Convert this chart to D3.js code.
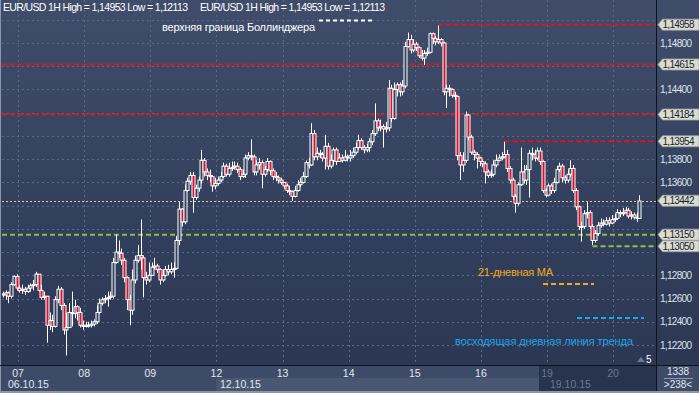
<!DOCTYPE html>
<html>
<head>
<meta charset="utf-8">
<script src="https://cdn.jsdelivr.net/npm/d3@7"></script>
<style>
  html, body { margin: 0; padding: 0; background: #8d96a8; }
  svg { display: block; font-family: "Liberation Sans", Arial, sans-serif; }
</style>
</head>
<body>
<svg id="chart" width="699" height="393"></svg>
<script>
// EUR/USD 1H, 06.10.15 18:00 .. 20.10.15 09:00 (one value per hour)
const dayLabels = ["07", "08", "09", "12", "13", "14", "15", "16", "19", "20"];
const dayStartIndex = [6, 30, 54, 78, 102, 126, 150, 174, 198, 222];
const weekLabels = ["06.10.15", "12.10.15", "19.10.15"];
const firstOpen = 1.1264;

const close = [
  1.1263,1.1265,1.1262,1.1272,1.1279,1.1269,
  1.1267,1.1268,1.1266,1.1269,1.1271,1.1272,1.1281,1.1267,1.1261,1.1262,1.1237,1.1241,1.1236,1.1259,1.1268,1.1254,1.1233,1.1235,1.1248,1.1247,1.1253,1.1248,1.1237,1.1236,
  1.1237,1.1237,1.1238,1.1240,1.1248,1.1256,1.1259,1.1260,1.1261,1.1262,1.1291,1.1300,1.1299,1.1293,1.1278,1.1259,1.1250,1.1276,1.1293,1.1297,1.1295,1.1278,1.1276,1.1280,
  1.1287,1.1288,1.1285,1.1276,1.1280,1.1285,1.1283,1.1285,1.1286,1.1310,1.1337,1.1326,1.1353,1.1361,1.1366,1.1347,1.1355,1.1362,1.1379,1.1369,1.1366,1.1365,1.1357,1.1359,
  1.1362,1.1365,1.1374,1.1367,1.1372,1.1373,1.1374,1.1371,1.1365,1.1367,1.1381,1.1383,1.1382,1.1369,1.1375,1.1377,1.1367,1.1371,1.1378,1.1370,1.1365,1.1364,1.1362,1.1360,
  1.1357,1.1353,1.1352,1.1348,1.1353,1.1358,1.1360,1.1365,1.1377,1.1375,1.1402,1.1382,1.1385,1.1384,1.1381,1.1391,1.1374,1.1379,1.1388,1.1378,1.1381,1.1379,1.1382,1.1381,
  1.1383,1.1386,1.1390,1.1396,1.1390,1.1388,1.1390,1.1395,1.1402,1.1413,1.1407,1.1408,1.1406,1.1407,1.1441,1.1415,1.1440,1.1444,1.1438,1.1443,1.1477,1.1483,1.1474,1.1479,
  1.1476,1.1469,1.1467,1.1471,1.1472,1.1488,1.1484,1.1481,1.1483,1.1480,1.1438,1.1441,1.1440,1.1435,1.1434,1.1383,1.1375,1.1379,1.1418,1.1399,1.1386,1.1384,1.1381,1.1378,
  1.1376,1.1369,1.1366,1.1367,1.1375,1.1379,1.1381,1.1382,1.1384,1.1372,1.1362,1.1348,1.1342,1.1358,1.1369,1.1362,1.1371,1.1385,1.1384,1.1381,1.1387,1.1378,1.1353,1.1349,
  1.1357,1.1353,1.1360,1.1371,1.1374,1.1364,1.1362,1.1367,1.1372,1.1353,1.1339,1.1322,1.1322,1.1333,1.1334,1.1322,1.1310,1.1316,1.1323,1.1325,1.1324,1.1327,1.1325,1.1328,
  1.1329,1.1334,1.1333,1.1334,1.1336,1.1331,1.1332,1.1330,1.1329,1.1344
];
const high = [
  1.1266,1.1267,1.1266,1.1274,1.1280,1.1281,
  1.1271,1.1272,1.1270,1.1272,1.1273,1.1276,1.1283,1.1281,1.1272,1.1266,1.1262,1.1248,1.1246,1.1262,1.1271,1.1270,1.1256,1.1248,1.1256,1.1266,1.1259,1.1254,1.1252,1.1241,
  1.1240,1.1240,1.1241,1.1242,1.1254,1.1260,1.1261,1.1263,1.1266,1.1266,1.1295,1.1315,1.1310,1.1303,1.1295,1.1279,1.1263,1.1285,1.1297,1.1306,1.1328,1.1297,1.1283,1.1291,
  1.1291,1.1295,1.1290,1.1286,1.1285,1.1288,1.1289,1.1291,1.1291,1.1314,1.1343,1.1338,1.1358,1.1364,1.1369,1.1369,1.1358,1.1365,1.1388,1.1381,1.1372,1.1371,1.1366,1.1364,
  1.1365,1.1369,1.1377,1.1376,1.1377,1.1378,1.1378,1.1377,1.1373,1.1371,1.1384,1.1386,1.1397,1.1384,1.1379,1.1381,1.1379,1.1374,1.1381,1.1379,1.1372,1.1369,1.1366,1.1364,
  1.1360,1.1359,1.1357,1.1353,1.1357,1.1362,1.1364,1.1369,1.1379,1.1381,1.1411,1.1405,1.1390,1.1388,1.1386,1.1401,1.1394,1.1384,1.1390,1.1390,1.1385,1.1384,1.1388,1.1384,
  1.1388,1.1390,1.1394,1.1401,1.1398,1.1392,1.1393,1.1398,1.1405,1.1428,1.1415,1.1414,1.1410,1.1412,1.1448,1.1444,1.1446,1.1446,1.1446,1.1448,1.1481,1.1489,1.1487,1.1483,
  1.1481,1.1477,1.1474,1.1474,1.1476,1.1489,1.1489,1.1486,1.1495,1.1484,1.1481,1.1444,1.1444,1.1441,1.1438,1.1434,1.1386,1.1386,1.1421,1.1419,1.1401,1.1388,1.1386,1.1382,
  1.1379,1.1378,1.1371,1.1371,1.1379,1.1384,1.1384,1.1386,1.1395,1.1388,1.1374,1.1364,1.1350,1.1360,1.1390,1.1375,1.1375,1.1388,1.1390,1.1388,1.1390,1.1390,1.1379,1.1355,
  1.1359,1.1359,1.1364,1.1374,1.1377,1.1376,1.1366,1.1371,1.1379,1.1375,1.1355,1.1340,1.1326,1.1336,1.1343,1.1336,1.1324,1.1319,1.1326,1.1329,1.1328,1.1330,1.1330,1.1332,
  1.1333,1.1337,1.1336,1.1338,1.1339,1.1338,1.1335,1.1334,1.1334,1.1349
];
const low = [
  1.1261,1.1259,1.1256,1.1260,1.1271,1.1267,
  1.1265,1.1264,1.1263,1.1265,1.1266,1.1267,1.1270,1.1266,1.1259,1.1259,1.1222,1.1233,1.1231,1.1235,1.1256,1.1250,1.1229,1.1211,1.1235,1.1236,1.1243,1.1241,1.1235,1.1233,
  1.1235,1.1235,1.1235,1.1236,1.1238,1.1247,1.1254,1.1256,1.1253,1.1259,1.1260,1.1290,1.1295,1.1289,1.1274,1.1250,1.1237,1.1246,1.1273,1.1291,1.1285,1.1261,1.1272,1.1274,
  1.1280,1.1285,1.1282,1.1272,1.1274,1.1279,1.1280,1.1281,1.1278,1.1285,1.1306,1.1322,1.1324,1.1352,1.1358,1.1334,1.1345,1.1352,1.1359,1.1365,1.1362,1.1360,1.1352,1.1354,
  1.1357,1.1360,1.1364,1.1365,1.1365,1.1370,1.1371,1.1368,1.1362,1.1364,1.1364,1.1379,1.1379,1.1366,1.1366,1.1371,1.1355,1.1365,1.1369,1.1366,1.1362,1.1361,1.1359,1.1358,
  1.1354,1.1351,1.1349,1.1344,1.1347,1.1352,1.1356,1.1359,1.1364,1.1372,1.1374,1.1379,1.1379,1.1381,1.1378,1.1371,1.1371,1.1372,1.1375,1.1375,1.1378,1.1377,1.1378,1.1378,
  1.1378,1.1381,1.1384,1.1388,1.1388,1.1385,1.1386,1.1386,1.1392,1.1400,1.1404,1.1404,1.1390,1.1403,1.1404,1.1412,1.1414,1.1434,1.1434,1.1435,1.1441,1.1476,1.1471,1.1472,
  1.1473,1.1467,1.1465,1.1461,1.1469,1.1471,1.1479,1.1478,1.1479,1.1477,1.1435,1.1424,1.1434,1.1433,1.1431,1.1379,1.1362,1.1369,1.1377,1.1396,1.1384,1.1379,1.1372,1.1374,
  1.1373,1.1359,1.1364,1.1364,1.1365,1.1373,1.1378,1.1379,1.1381,1.1369,1.1359,1.1345,1.1334,1.1340,1.1357,1.1359,1.1358,1.1347,1.1379,1.1378,1.1379,1.1375,1.1351,1.1347,
  1.1348,1.1350,1.1351,1.1359,1.1369,1.1360,1.1359,1.1360,1.1365,1.1351,1.1336,1.1319,1.1309,1.1320,1.1329,1.1320,1.1306,1.1308,1.1314,1.1321,1.1322,1.1323,1.1322,1.1324,
  1.1326,1.1328,1.1330,1.1331,1.1333,1.1329,1.1328,1.1328,1.1326,1.1331
];

// horizontal levels: value and the candle from which the line starts
const redLevels = [1.14958, 1.14615, 1.14184, 1.13954];
const redFrom = [158, 0, 0, 182];
const greenLevels = [1.13150, 1.13050];
const greenFrom = [0, 214];
const lastPrice = 1.13442;
const priceTicks = d3.range(0, 15).map((k) => 1.122 + k * 0.002);

// ---------- layout ----------
const W = 699, H = 393;
const P = { left: 2, right: 656, top: 0, bottom: 365 };
const N = close.length;
const step = 2.755;
const fmt = (v) => d3.format(".5f")(v).replace(".", ",");

const x = d3.scaleLinear().domain([0, N - 1]).range([2.9, 2.9 + step * (N - 1)]);
const y = d3.scaleLinear().domain([1.122, 1.148]).range([345, 43]);

const candles = close.map((c, i) => {
  const o = i ? close[i - 1] : firstOpen;
  return { i, o, c, h: Math.max(high[i], o, c), l: Math.min(low[i], o, c) };
});

const svg = d3.select("#chart");
const defs = svg.append("defs");
const grad = defs.append("linearGradient").attr("id", "bg").attr("x1", 0).attr("y1", 0).attr("x2", 0).attr("y2", 1);
grad.append("stop").attr("offset", "0%").attr("stop-color", "#3f4d6b");
grad.append("stop").attr("offset", "100%").attr("stop-color", "#2b3753");
defs.append("clipPath").attr("id", "plotclip")
  .append("rect").attr("x", P.left).attr("y", P.top).attr("width", P.right - P.left).attr("height", P.bottom - P.top);

// frame + background
svg.append("rect").attr("width", W).attr("height", H).attr("fill", "#8d96a8");
svg.append("rect").attr("x", 1).attr("y", 0).attr("width", W - 1).attr("height", P.bottom).attr("fill", "url(#bg)");

const plot = svg.append("g").attr("clip-path", "url(#plotclip)");

// grid
plot.append("g").selectAll("line").data(priceTicks).join("line")
  .attr("x1", P.left).attr("x2", P.right)
  .attr("y1", (d) => Math.round(y(d)) + 0.5).attr("y2", (d) => Math.round(y(d)) + 0.5)
  .attr("stroke", "#5a6886").attr("stroke-dasharray", "2,3");
plot.append("g").selectAll("line").data(dayStartIndex).join("line")
  .attr("x1", (d) => Math.round(x(d - 0.5)) + 0.5).attr("x2", (d) => Math.round(x(d - 0.5)) + 0.5)
  .attr("y1", P.top).attr("y2", P.bottom)
  .attr("stroke", "#5a6886").attr("stroke-dasharray", "2,3");

// level lines
const levelLine = (vals, from, color) =>
  plot.append("g").selectAll("line").data(vals).join("line")
    .attr("x1", (d, k) => (from[k] ? x(from[k]) : P.left)).attr("x2", P.right)
    .attr("y1", (d) => y(d)).attr("y2", (d) => y(d))
    .attr("stroke", color).attr("stroke-width", 2).attr("stroke-dasharray", "5,3");
levelLine(redLevels, redFrom, "#e3121c");
levelLine(greenLevels, greenFrom, "#8dbd45");

plot.append("line")
  .attr("x1", P.left).attr("x2", P.right)
  .attr("y1", Math.round(y(lastPrice)) + 0.5).attr("y2", Math.round(y(lastPrice)) + 0.5)
  .attr("stroke", "#e0c890").attr("stroke-dasharray", "2,2");

// candles
const cg = plot.append("g");
cg.selectAll("line").data(candles).join("line")
  .attr("x1", (d) => Math.round(x(d.i)) + 0.5).attr("x2", (d) => Math.round(x(d.i)) + 0.5)
  .attr("y1", (d) => y(d.h)).attr("y2", (d) => y(d.l))
  .attr("stroke", "#ffffff").attr("stroke-width", 1);
cg.selectAll("rect").data(candles).join("rect")
  .attr("x", (d) => Math.round(x(d.i)) - 1)
  .attr("y", (d) => y(Math.max(d.o, d.c)))
  .attr("width", 3)
  .attr("height", (d) => Math.max(1, Math.abs(y(d.o) - y(d.c))))
  .attr("fill", (d) => (d.c < d.o ? "#e3102c" : "#34425f"))
  .attr("stroke", "#ffffff").attr("stroke-width", 1);

// annotations
const annot = svg.append("g");
annot.append("text").attr("x", 3).attr("y", 11).attr("font-size", 10.5).attr("fill", "#ffffff")
  .attr("textLength", 185).text("EUR/USD 1H High = 1,14953 Low = 1,12113");
annot.append("text").attr("x", 200).attr("y", 11).attr("font-size", 10.5).attr("fill", "#ffffff")
  .attr("textLength", 185).text("EUR/USD 1H High = 1,14953 Low = 1,12113");

annot.append("text").attr("x", 162).attr("y", 31).attr("font-size", 11).attr("fill", "#ffffff")
  .attr("textLength", 153).text("верхняя граница Боллинджера");
annot.append("line").attr("x1", 319).attr("x2", 372).attr("y1", 20.5).attr("y2", 20.5)
  .attr("stroke", "#ffffff").attr("stroke-width", 2).attr("stroke-dasharray", "4,3");

annot.append("text").attr("x", 478).attr("y", 276).attr("font-size", 11).attr("fill", "#f2aa1a")
  .attr("textLength", 75).text("21-дневная МА");
annot.append("line").attr("x1", 543).attr("x2", 594).attr("y1", 284).attr("y2", 284)
  .attr("stroke", "#f2aa1a").attr("stroke-width", 2).attr("stroke-dasharray", "5,3");

annot.append("text").attr("x", 455).attr("y", 345).attr("font-size", 11).attr("fill", "#1ea6ea")
  .attr("textLength", 178).text("восходящая дневная линия тренда");
annot.append("line").attr("x1", 577).attr("x2", 644).attr("y1", 318).attr("y2", 318)
  .attr("stroke", "#1ea6ea").attr("stroke-width", 2).attr("stroke-dasharray", "5,3");

annot.append("path").attr("d", "M637,362 L641,357 L645,362 Z").attr("fill", "#6f7a90");
annot.append("text").attr("x", 646).attr("y", 363).attr("font-size", 10).attr("fill", "#ffffff").text("5");

// ---------- right price axis ----------
svg.append("line").attr("x1", 656.5).attr("x2", 656.5).attr("y1", 0).attr("y2", 391)
  .attr("stroke", "#0c1220").attr("stroke-width", 1);
const tags = [...redLevels, lastPrice, ...greenLevels];
// tick labels hidden under a price tag are left out
const freeTicks = priceTicks.filter((t) => tags.every((v) => Math.abs(y(t) - y(v)) > 11));
const ax = svg.append("g");
ax.selectAll("text").data(freeTicks).join("text")
  .attr("x", 660).attr("y", (d) => y(d)).attr("dy", "0.35em")
  .attr("font-size", 10).attr("fill", "#dde3ee").attr("textLength", 32)
  .text((d) => fmt(d));

const tg = ax.selectAll("g.tag").data(tags).join("g").attr("class", "tag")
  .attr("transform", (d) => `translate(0,${y(d)})`);
tg.append("path").attr("d", "M658,0 L662.5,-5.5 L699,-5.5 L699,5.5 L662.5,5.5 Z")
  .attr("fill", "#dcdccb").attr("stroke", "#9aa0aa").attr("stroke-width", 0.8);
tg.append("text").attr("x", 662.5).attr("dy", "0.36em").attr("font-size", 10).attr("fill", "#15223a")
  .attr("textLength", 32).text((d) => fmt(d));

// ---------- time axis ----------
svg.append("rect").attr("x", 1).attr("y", P.bottom).attr("width", 655).attr("height", 26).attr("fill", "#3e4b68");
svg.append("rect").attr("x", x(dayStartIndex[3] - 0.5)).attr("y", 378).attr("width", 539 - x(dayStartIndex[3] - 0.5)).attr("height", 13).attr("fill", "#4a5773");
svg.append("rect").attr("x", 539).attr("y", P.bottom).attr("width", 117).attr("height", 26).attr("fill", "#28334d");
svg.append("rect").attr("x", 657).attr("y", P.bottom).attr("width", 42).attr("height", 26).attr("fill", "#3e4b68");
svg.append("line").attr("x1", 0).attr("x2", W).attr("y1", P.bottom + 0.5).attr("y2", P.bottom + 0.5).attr("stroke", "#0c1220");
svg.append("line").attr("x1", 656.5).attr("x2", 656.5).attr("y1", P.bottom).attr("y2", 391).attr("stroke", "#0c1220");

svg.append("g").selectAll("text").data(dayLabels).join("text")
  .attr("x", (d, k) => x(dayStartIndex[k] - 0.5)).attr("y", 377).attr("text-anchor", "middle")
  .attr("font-size", 10.5).attr("fill", (d, k) => (k >= 8 ? "#6c778f" : "#e2e7f0"))
  .text((d) => d);

const weekX = [8, 220, 550];
svg.append("g").selectAll("text").data(weekLabels).join("text")
  .attr("x", (d, k) => weekX[k]).attr("y", 388)
  .attr("font-size", 10.5).attr("fill", (d, k) => (k === 2 ? "#6c778f" : "#e2e7f0"))
  .text((d) => d);

svg.append("text").attr("x", 678).attr("y", 375).attr("text-anchor", "middle").attr("font-size", 10)
  .attr("fill", "#e2e7f0").text("1338");
svg.append("line").attr("x1", 664).attr("x2", 693).attr("y1", 378.5).attr("y2", 378.5).attr("stroke", "#8f9ab0");
svg.append("text").attr("x", 678).attr("y", 388).attr("text-anchor", "middle").attr("font-size", 10)
  .attr("fill", "#e2e7f0").text(">238<");
</script>
</body>
</html>
